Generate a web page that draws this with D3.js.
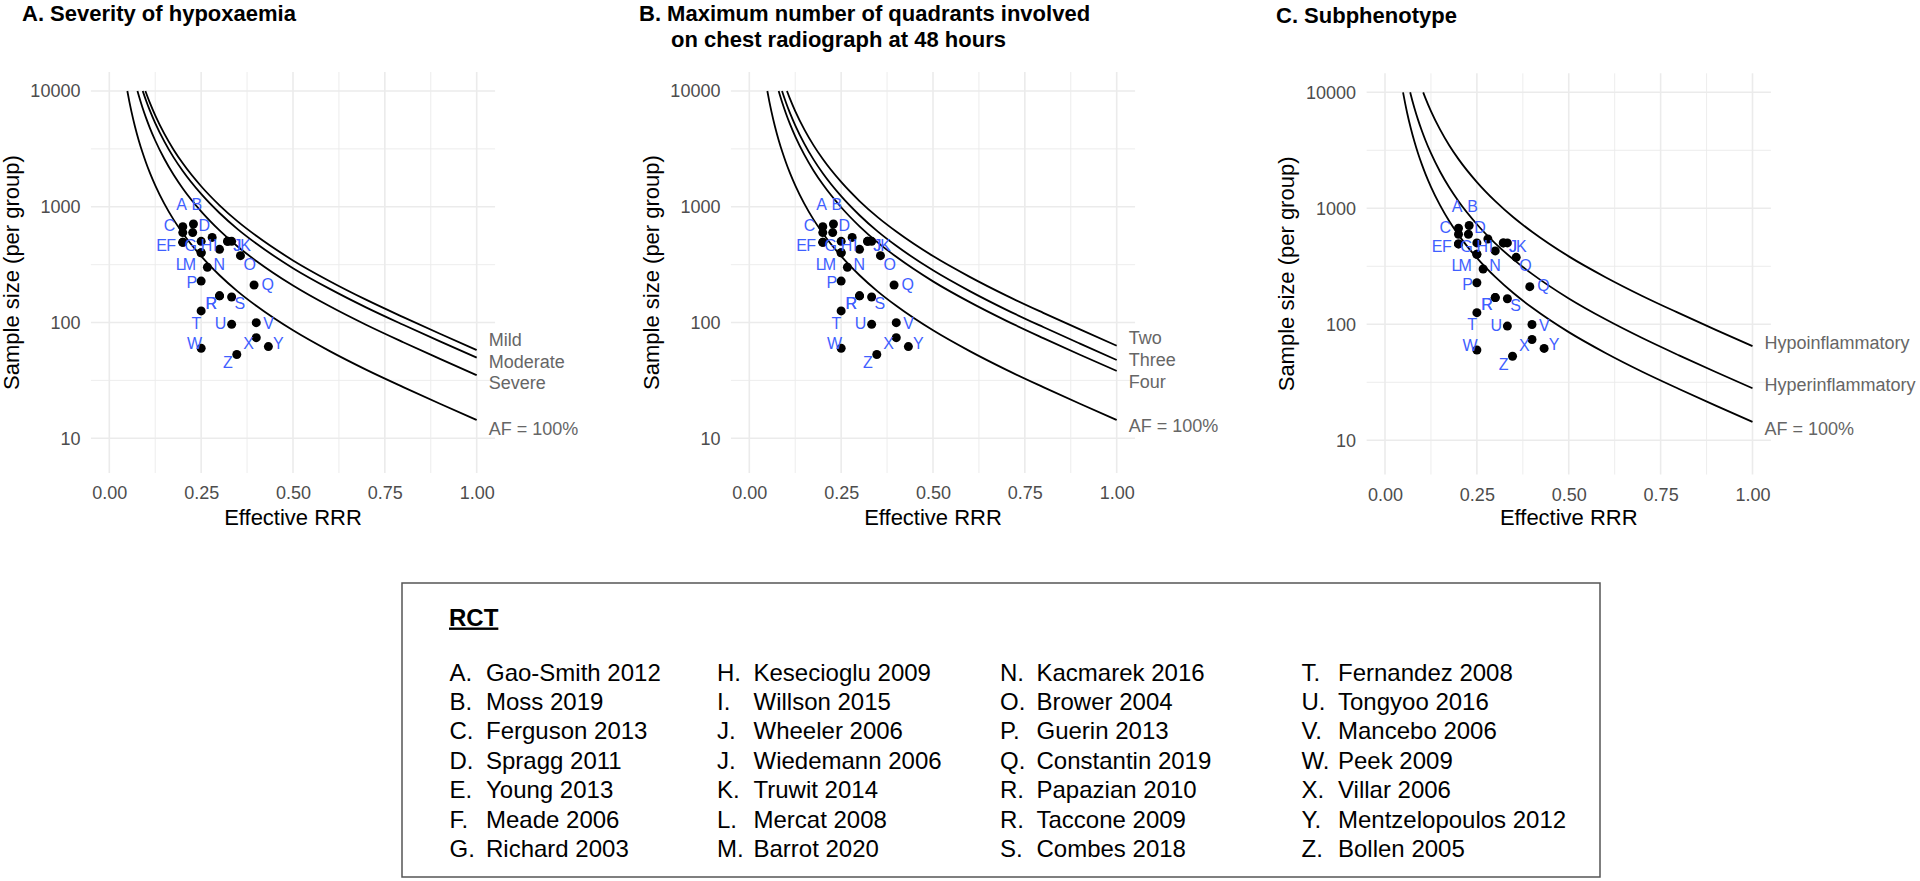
<!DOCTYPE html>
<html><head><meta charset="utf-8">
<script src="https://cdnjs.cloudflare.com/ajax/libs/d3/7.8.5/d3.min.js"></script>
<style>
html,body{margin:0;padding:0;background:#fff;}
svg{display:block;}
</style></head><body>
<svg id="chart" width="1920" height="881"></svg>
<script>
// ===================== DATA =====================
const trialLetters = ["A","B","C","D","E","F","G","H","I","J","J","K","L","M","N","O","P","Q","R","R","S","T","U","V","W","X","Y","Z"];
const trialRRR = [0.20,0.229,0.20,0.227,0.20,0.20,0.25,0.28,0.30,0.322,0.322,0.333,0.25,0.25,0.267,0.357,0.25,0.394,0.30,0.30,0.333,0.25,0.333,0.40,0.25,0.40,0.433,0.347];
const trialN   = [673,710,598,598,493,493,503,544,429,503,503,503,401,401,300,378,228,211,170,170,166,126,96.5,99.7,60,74,62,53];
const trialStudies = ["Gao-Smith 2012","Moss 2019","Ferguson 2013","Spragg 2011","Young 2013","Meade 2006","Richard 2003",
  "Kesecioglu 2009","Willson 2015","Wheeler 2006","Wiedemann 2006","Truwit 2014","Mercat 2008","Barrot 2020",
  "Kacmarek 2016","Brower 2004","Guerin 2013","Constantin 2019","Papazian 2010","Taccone 2009","Combes 2018",
  "Fernandez 2008","Tongyoo 2016","Mancebo 2006","Peek 2009","Villar 2006","Mentzelopoulos 2012","Bollen 2005"];

const xTicks = [0, 0.25, 0.5, 0.75, 1.0];
const xTickLabels = ["0.00","0.25","0.50","0.75","1.00"];
const xMinorTicks = [0.125, 0.375, 0.625, 0.875];
const yTicks = [10, 100, 1000, 10000];
const yTickLabels = ["10","100","1000","10000"];
const yMinorTicks = [31.62, 316.2, 3162];

// curves: sample size per group vs effective RRR
const afRRR = [0.0491,0.055,0.06,0.07,0.08,0.09,0.1,0.11,0.125,0.15,0.175,0.2,0.25,0.3,0.35,0.4,0.5,0.6,0.7,0.8,0.9,1.0];
const afN   = [10000,7976,6700,4917,3760,2967,2401,1981,1531,1059,774,590,374,256,185,139.5,85.6,56.6,39.0,27.7,19.9,14.4];

const mildRRR = [0.0982,0.1,0.11,0.125,0.15,0.175,0.2,0.25,0.3,0.35,0.4,0.5,0.6,0.7,0.8,0.9,1.0];
const mildN   = [10000,9652,7964,6155,4257,3111,2372,1503,1029,744,561,344,227.5,156.8,111.4,80.0,57.9];
const moderateRRR = [0.0910,0.1,0.11,0.125,0.15,0.175,0.2,0.25,0.3,0.35,0.4,0.5,0.6,0.7,0.8,0.9,1.0];
const moderateN   = [10000,8283,6834,5282,3654,2670,2036,1290,883,638,481,295,195.3,134.6,95.6,68.7,49.7];
const severeRRR = [0.0766,0.08,0.09,0.1,0.11,0.125,0.15,0.175,0.2,0.25,0.3,0.35,0.4,0.5,0.6,0.7,0.8,0.9,1.0];
const severeN   = [10000,9174,7239,5858,4834,3736,2584,1889,1440,912.6,624.6,451,340.4,208.9,138.1,95.2,67.6,48.6,35.1];

const twoRRR = [0.1025,0.11,0.125,0.15,0.175,0.2,0.25,0.3,0.35,0.4,0.5,0.6,0.7,0.8,0.9,1.0];
const twoN   = [10000,8677,6706,4638,3390,2584,1638,1121,810,611,375,248,170.8,121.3,87.2,63.1];
const threeRRR = [0.0891,0.09,0.1,0.11,0.125,0.15,0.175,0.2,0.25,0.3,0.35,0.4,0.5,0.6,0.7,0.8,0.9,1.0];
const threeN   = [10000,9791,7923,6537,5052,3495,2554,1947,1234,845,610,460,282.5,186.8,128.7,91.4,65.7,47.5];
const fourRRR = [0.0799,0.09,0.1,0.11,0.125,0.15,0.175,0.2,0.25,0.3,0.35,0.4,0.5,0.6,0.7,0.8,0.9,1.0];
const fourN   = [10000,7863,6363,5250,4057,2806,2051,1564,991,678,490,369.7,226.8,150,103.4,73.4,52.7,38.2];

const hypoRRR = [0.1039,0.11,0.125,0.15,0.175,0.2,0.25,0.3,0.35,0.4,0.5,0.6,0.7,0.8,0.9,1.0];
const hypoN   = [10000,8915,6890,4766,3483,2655,1683,1152,832,628,385,254.7,175.5,124.7,89.6,64.8];
const hyperRRR = [0.0686,0.07,0.08,0.09,0.1,0.11,0.125,0.15,0.175,0.2,0.25,0.3,0.35,0.4,0.5,0.6,0.7,0.8,0.9,1.0];
const hyperN   = [10000,9588,7332,5786,4682,3863,2985,2065,1509,1150.5,729,499,361,272,167,110.4,76.1,54.0,38.8,28.1];

// ===================== LAYOUT =====================
const FONT = '"Liberation Sans", Arial, Helvetica, sans-serif';
const BLUE = "#3f5fff";
// letter label offsets (px) relative to each dot, in trial order
const labelOffsets = [[-1.3,-21.7],[3.4,-19],[-13.3,-7],[11.6,-7],[-21.3,2.7],[-11.6,2.7],[-10.3,3.7],[-5.6,7.7],[-4.3,-4.3],
  [9.6,3.7],[9.6,3.7],[14,3.7],[-21,11.6],[-11.7,11.6],[12,-3],[9.3,8.6],[-9.3,1.7],[13.7,-0.7],[-8.3,7.3],[-8.3,7.3],
  [8.3,6.3],[-4.7,12.3],[-11,-1],[12.3,0.6],[-6.7,-5],[-7.7,5.6],[10,-3.4],[-9,8.4]];

const panels = [
  {title:[{t:"A. Severity of hypoxaemia",x:22,y:21}], x0:109.3, x1:476.7, y10:438.3, y10k:91, top:72, bottom:473,
   curves:[{r:mildRRR,n:mildN,label:"Mild",dy:-10},{r:moderateRRR,n:moderateN,label:"Moderate",dy:4},
           {r:severeRRR,n:severeN,label:"Severe",dy:8.3},{r:afRRR,n:afN,label:"AF = 100%",dy:8.8}]},
  {title:[{t:"B. Maximum number of quadrants involved",x:639,y:21},{t:"on chest radiograph at 48 hours",x:671,y:47}],
   x0:749.3, x1:1116.7, y10:438.3, y10k:91, top:72, bottom:473,
   curves:[{r:twoRRR,n:twoN,label:"Two",dy:-8},{r:threeRRR,n:threeN,label:"Three",dy:-0.4},
           {r:fourRRR,n:fourN,label:"Four",dy:10.7},{r:afRRR,n:afN,label:"AF = 100%",dy:6.5}]},
  {title:[{t:"C. Subphenotype",x:1276,y:23}], x0:1385, x1:1752.5, y10:440.3, y10k:92.3, top:73.3, bottom:474.5,
   curves:[{r:hypoRRR,n:hypoN,label:"Hypoinflammatory",dy:-3.4},{r:hyperRRR,n:hyperN,label:"Hyperinflammatory",dy:-3.4},
           {r:afRRR,n:afN,label:"AF = 100%",dy:6.8}]}
];

const svg = d3.select("#chart").attr("font-family", FONT);

panels.forEach(p => {
  const x = d3.scaleLinear().domain([0,1]).range([p.x0, p.x1]);
  const y = d3.scaleLog().domain([10,10000]).range([p.y10, p.y10k]);
  const left = x(-0.05), right = x(1.05);
  const g = svg.append("g");

  // grid
  g.selectAll(".vmin").data(xMinorTicks).join("line")
    .attr("x1", d=>x(d)).attr("x2", d=>x(d)).attr("y1", p.top).attr("y2", p.bottom)
    .attr("stroke","#ebebeb").attr("stroke-width",0.9);
  g.selectAll(".hmin").data(yMinorTicks).join("line")
    .attr("y1", d=>y(d)).attr("y2", d=>y(d)).attr("x1", left).attr("x2", right)
    .attr("stroke","#ebebeb").attr("stroke-width",0.9);
  g.selectAll(".vmaj").data(xTicks).join("line")
    .attr("x1", d=>x(d)).attr("x2", d=>x(d)).attr("y1", p.top).attr("y2", p.bottom)
    .attr("stroke","#ebebeb").attr("stroke-width",1.6);
  g.selectAll(".hmaj").data(yTicks).join("line")
    .attr("y1", d=>y(d)).attr("y2", d=>y(d)).attr("x1", left).attr("x2", right)
    .attr("stroke","#ebebeb").attr("stroke-width",1.6);

  // axes
  const xa = g.append("g").attr("transform", `translate(0,${p.bottom})`)
    .call(d3.axisBottom(x).tickValues(xTicks).tickFormat((d,i)=>xTickLabels[i]).tickSize(0).tickPadding(13.7));
  xa.select(".domain").remove();
  xa.selectAll("text").attr("font-size",18).attr("fill","#4d4d4d").attr("font-family",FONT);
  const ya = g.append("g").attr("transform", `translate(${left},0)`)
    .call(d3.axisLeft(y).tickValues(yTicks).tickFormat((d,i)=>yTickLabels[i]).tickSize(0).tickPadding(10.5));
  ya.select(".domain").remove();
  ya.selectAll("text").attr("font-size",18).attr("fill","#4d4d4d").attr("font-family",FONT);

  g.append("text").attr("x", x(0.5)).attr("y", 525).attr("text-anchor","middle")
    .attr("font-size",22).attr("fill","#000").text("Effective RRR");
  g.append("text").attr("transform", `translate(${left-72.3},${(p.top+p.bottom)/2}) rotate(-90)`)
    .attr("text-anchor","middle").attr("font-size",22).attr("fill","#000").text("Sample size (per group)");

  // curves
  const line = d3.line().x(d=>x(d[0])).y(d=>y(d[1])).curve(d3.curveMonotoneX);
  p.curves.forEach(c => {
    const pts = c.r.map((r,i)=>[r, c.n[i]]);
    g.append("path").attr("d", line(pts)).attr("fill","none").attr("stroke","#000").attr("stroke-width",1.8);
    g.append("text").attr("x", x(1) + 12).attr("y", y(c.n[c.n.length-1]) + c.dy)
      .attr("dominant-baseline","central").attr("font-size",18).attr("fill","#666").text(c.label);
  });

  // points
  g.selectAll(".dot").data(trialRRR).join("circle")
    .attr("cx", d=>x(d)).attr("cy", (d,i)=>y(trialN[i])).attr("r",4.5).attr("fill","#000");
  g.selectAll(".lab").data(trialLetters).join("text")
    .attr("x", (d,i)=>x(trialRRR[i]) + labelOffsets[i][0])
    .attr("y", (d,i)=>y(trialN[i]) + labelOffsets[i][1])
    .attr("text-anchor","middle").attr("dominant-baseline","central")
    .attr("font-size",16).attr("fill",BLUE).text(d=>d);

  // title
  p.title.forEach(t => {
    g.append("text").attr("x", t.x).attr("y", t.y).attr("font-size",22).attr("font-weight","bold")
      .attr("fill","#000").text(t.t);
  });
});

// ===================== LEGEND BOX =====================
const lg = svg.append("g");
lg.append("rect").attr("x",402).attr("y",583).attr("width",1198).attr("height",294)
  .attr("fill","none").attr("stroke","#555").attr("stroke-width",1.5);
const rct = lg.append("text").attr("x",449).attr("y",625.5).attr("font-size",24).attr("font-weight","bold")
  .attr("text-decoration","underline").attr("fill","#000").text("RCT");
const colX = [449.5, 717, 1000, 1301.5];
trialLetters.forEach((L,i) => {
  const col = Math.floor(i/7), row = i % 7;
  const yy = 672 + row*29.4 + 8.5;
  lg.append("text").attr("x", colX[col]).attr("y", yy).attr("font-size",24).attr("fill","#000").text(L + ".");
  lg.append("text").attr("x", colX[col] + 36.5).attr("y", yy).attr("font-size",24).attr("fill","#000").text(trialStudies[i]);
});
</script>
</body></html>
